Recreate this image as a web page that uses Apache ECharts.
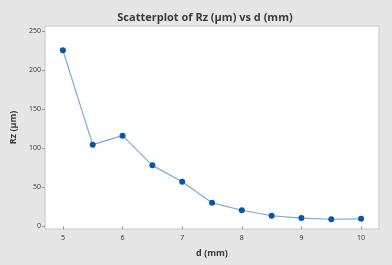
<!DOCTYPE html>
<html>
<head>
<meta charset="utf-8">
<script src="https://cdn.jsdelivr.net/npm/echarts@6/dist/echarts.min.js"></script>
<style>
  html, body { margin: 0; padding: 0; background: #e6e6e6; }
  #chart { width: 392px; height: 265px; }
</style>
</head>
<body>
<div id="chart"></div>
<script>
// d (mm) values and measured Rz (µm)
const dValues = [5, 5.5, 6, 6.5, 7, 7.5, 8, 8.5, 9, 9.5, 10];
const rzValues = [225.5, 104.5, 116, 78, 57, 30, 20.5, 13.5, 10.5, 9, 9.5];
const xTicks = [5, 6, 7, 8, 9, 10];
const yTicks = [0, 50, 100, 150, 200, 250];

const chart = echarts.init(document.getElementById('chart'));
const font = '"Open Sans", "Noto Sans", sans-serif';

const option = {
  backgroundColor: '#e6e6e6',
  animation: false,
  title: {
    text: 'Scatterplot of Rz (µm) vs d (mm)',
    left: 200,
    textAlign: 'center',
    top: 7,
    textStyle: { fontFamily: font, fontSize: 11, fontWeight: 'bold', color: '#3a3a3a' }
  },
  grid: {
    left: 45, right: 13, top: 26, bottom: 36,
    show: true,
    backgroundColor: '#ffffff',
    borderColor: '#c8c8c8',
    borderWidth: 1
  },
  xAxis: {
    type: 'value',
    min: 4.7,
    max: 10.3,
    name: 'd (mm)',
    nameLocation: 'middle',
    nameGap: 20,
    nameTextStyle: { fontFamily: font, fontSize: 9, fontWeight: 'bold', color: '#3a3a3a' },
    splitLine: { show: false },
    axisLine: { show: false },
    axisTick: { show: true, customValues: xTicks, length: 3, lineStyle: { color: '#999' } },
    axisLabel: { customValues: xTicks, fontFamily: font, fontSize: 7, color: '#333', margin: 5 }
  },
  yAxis: {
    type: 'value',
    min: -3.5,
    max: 256.5,
    name: 'Rz (µm)',
    nameLocation: 'middle',
    nameGap: 24,
    nameTextStyle: { fontFamily: font, fontSize: 9, fontWeight: 'bold', color: '#3a3a3a' },
    splitLine: { show: false },
    axisLine: { show: false },
    axisTick: { show: true, customValues: yTicks, length: 3, lineStyle: { color: '#999' } },
    axisLabel: { customValues: yTicks, fontFamily: font, fontSize: 7, color: '#333', margin: 4 }
  },
  series: [{
    type: 'line',
    data: dValues.map((d, i) => [d, rzValues[i]]),
    symbol: 'circle',
    symbolSize: 6,
    itemStyle: { color: '#0b55a8' },
    lineStyle: { color: '#7aa9dc', width: 1.2 }
  }]
};

chart.setOption(option);
</script>
</body>
</html>
